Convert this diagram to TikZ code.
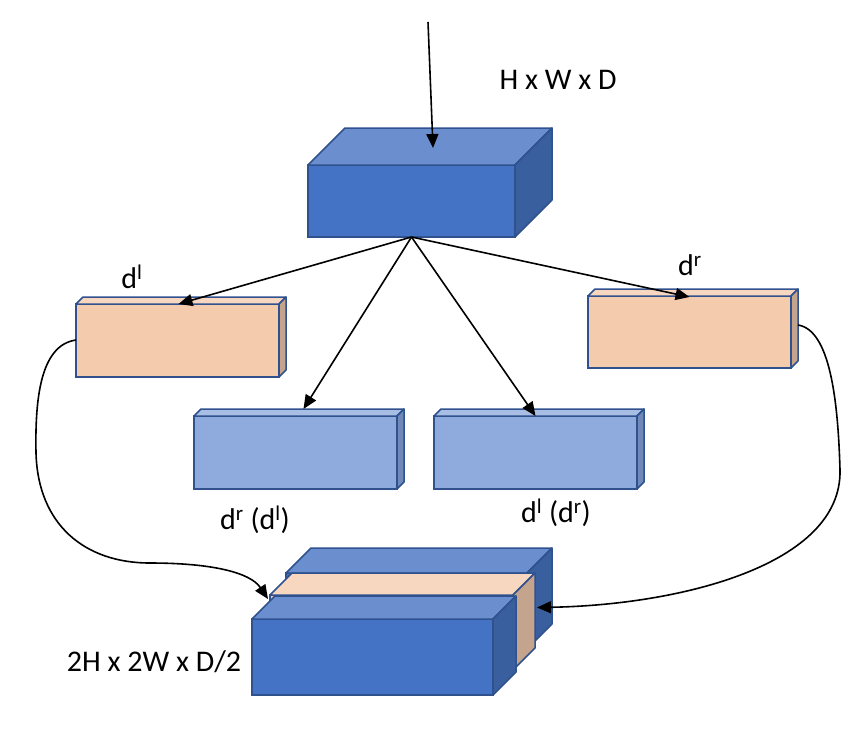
\documentclass[tikz,border=0pt]{standalone}
\usepackage{fontspec}
\setmainfont{Carlito}
\usetikzlibrary{arrows.meta}

\definecolor{blueF}{HTML}{4472C4}
\definecolor{blueT}{HTML}{6A8ECE}
\definecolor{blueS}{HTML}{3A5F9E}
\definecolor{lblueF}{HTML}{8FAADC}
\definecolor{lblueT}{HTML}{A9BEE5}
\definecolor{lblueS}{HTML}{7089B8}
\definecolor{orangeF}{HTML}{F5CBAE}
\definecolor{orangeT}{HTML}{F8D7C0}
\definecolor{orangeS}{HTML}{C5A48D}
\definecolor{edgeC}{HTML}{2F528F}

\tikzset{
  face/.style={draw=edgeC, line width=1.5pt, inner sep=0pt, outer sep=0pt, anchor=north west},
  edge/.style={draw=edgeC, line width=1.5pt, line join=round},
  link/.style={-{Triangle[length=14pt,width=12pt]}, line width=1.6pt},
  lbl/.style={font=\fontsize{30}{32}\selectfont}
}

% name, x, y (front top left), width, height, depth, colour
\newcommand{\cuboid}[7]{
  \node[face, fill=#7F, minimum width=#4pt, minimum height=#5pt] (#1) at (#2,#3) {};
  \draw[edge, fill=#7T] (#1.north west) -- ++(#6,-#6) -- ([shift={(#6,-#6)}]#1.north east) -- (#1.north east) -- cycle;
  \draw[edge, fill=#7S] (#1.north east) -- ++(#6,-#6) -- ++(0,#5) -- (#1.south east) -- cycle;
}

\begin{document}
\begin{tikzpicture}[x=1pt, y=-1pt]
  \useasboundingbox (0,0) rectangle (856,732);

  % input block
  \cuboid{input}{308}{165}{207}{72}{37}{blue}
  \node[lbl] (size in) at (558,80) {H x W x D};
  \coordinate (src) at (428,22);
  \draw[link] (src) -- (433,148);

  % disparity blocks
  \cuboid{dl}{76}{304}{203}{73}{7}{orange}
  \cuboid{dr}{588}{296}{203}{72}{7}{orange}
  \cuboid{dml}{194}{416}{203}{73}{7}{lblue}
  \cuboid{dmr}{434}{416}{203}{73}{7}{lblue}
  \node[lbl] (label dl) at (132,277) {d\textsuperscript{l}};
  \node[lbl] (label dr) at (690,265) {d\textsuperscript{r}};
  \node[lbl] (label dml) at (255,520) {d\textsuperscript{r} (d\textsuperscript{l})};
  \node[lbl] (label dmr) at (556,513) {d\textsuperscript{l} (d\textsuperscript{r})};

  \draw[link] (input.south) -- ([xshift=1]dl.north);
  \draw[link] (input.south) -- ([xshift=8,yshift=7]dml.north);
  \draw[link] (input.south) -- (dmr.north);
  \draw[link] (input.south) -- ([yshift=-1]dr.north);

  % output stack
  \cuboid{back}{286}{573}{241}{76}{25}{blue}
  \cuboid{mid}{270}{595}{243}{75}{22}{orange}
  \cuboid{out}{252}{619}{241}{76}{23}{blue}
  \node[lbl] (size out) at (154,662) {2H x 2W x D/2};

  \draw[link] ([yshift=-36]dl.north west) .. controls (40,345) and (35,400) .. (36,453)
    .. controls (38,525) and (85,563) .. (150,563)
    .. controls (210,563) and (250,572) .. ([shift={(-2,4)}]mid.north west);
  \draw[link] ([xshift=7,yshift=-29]dr.north east) .. controls (830,330) and (838,400) .. (840,470)
    .. controls (842,565) and (680,605) .. ([xshift=24,yshift=25]mid.east);
\end{tikzpicture}
\end{document}
